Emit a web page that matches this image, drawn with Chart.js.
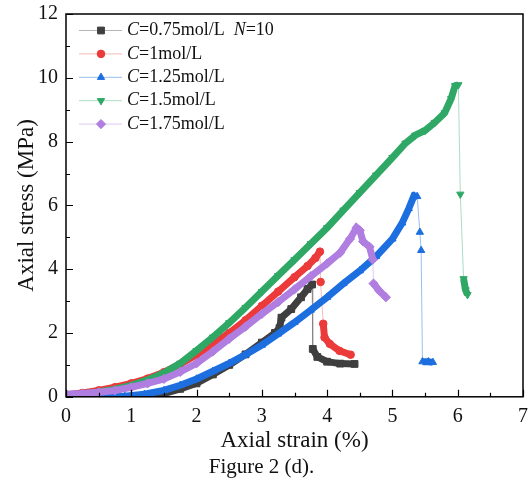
<!DOCTYPE html>
<html>
<head>
<meta charset="utf-8">
<script src="https://cdn.jsdelivr.net/npm/chart.js@4.4.1/dist/chart.umd.min.js"></script>
<style>
html,body{margin:0;padding:0;background:#fff;}
</style>
</head>
<body>
<canvas id="chart" width="532" height="481"></canvas>
<script>
const labels = ['C=0.75mol/L  N=10', 'C=1mol/L', 'C=1.25mol/L', 'C=1.5mol/L', 'C=1.75mol/L'];

const strainC075 = [0, 0.5, 1.0, 1.3, 1.5, 1.75, 2.0, 2.25, 2.5, 2.75, 3.0, 3.2, 3.27, 3.3, 3.45, 3.6, 3.7, 3.77, 3.78, 3.85, 4.0, 4.2, 4.42];
const stressC075 = [0, 0, 0, 0.02, 0.1, 0.25, 0.42, 0.7, 1.0, 1.33, 1.7, 2.0, 2.15, 2.48, 2.75, 3.12, 3.38, 3.52, 1.5, 1.25, 1.1, 1.04, 1.03];

const strainC1 = [0, 0.25, 0.5, 0.75, 1.0, 1.25, 1.5, 1.75, 2.0, 2.25, 2.5, 2.75, 3.0, 3.25, 3.5, 3.7, 3.82, 3.89, 3.9, 3.94, 3.96, 4.04, 4.19, 4.36];
const stressC1 = [0.06, 0.12, 0.2, 0.3, 0.42, 0.57, 0.77, 1.02, 1.32, 1.65, 2.0, 2.4, 2.85, 3.3, 3.75, 4.1, 4.35, 4.55, 3.6, 2.29, 1.86, 1.66, 1.44, 1.32];

const strainC125 = [0, 0.5, 0.9, 1.2, 1.5, 1.75, 2.0, 2.25, 2.5, 2.75, 3.0, 3.25, 3.5, 3.75, 4.0, 4.25, 4.5, 4.75, 5.0, 5.15, 5.25, 5.33, 5.38, 5.42, 5.44, 5.46, 5.55, 5.62];
const stressC125 = [0, 0, 0.02, 0.08, 0.2, 0.36, 0.56, 0.8, 1.05, 1.32, 1.62, 1.97, 2.33, 2.72, 3.12, 3.55, 3.95, 4.4, 4.95, 5.45, 5.9, 6.3, 6.28, 5.16, 4.59, 1.1, 1.1, 1.08];

const strainC15 = [0, 0.25, 0.5, 0.75, 1.0, 1.25, 1.5, 1.75, 2.0, 2.25, 2.5, 2.75, 3.0, 3.25, 3.5, 3.75, 4.0, 4.25, 4.5, 4.75, 5.0, 5.2, 5.35, 5.5, 5.65, 5.8, 5.9, 5.96, 6.01, 6.04, 6.09, 6.12, 6.15];
const stressC15 = [0.05, 0.09, 0.15, 0.24, 0.36, 0.53, 0.75, 1.05, 1.45, 1.87, 2.32, 2.8, 3.3, 3.8, 4.3, 4.8, 5.3, 5.85, 6.4, 6.95, 7.5, 7.95, 8.2, 8.35, 8.6, 8.9, 9.35, 9.75, 9.78, 6.35, 3.7, 3.35, 3.2];

const strainC175 = [0, 0.25, 0.5, 0.75, 1.0, 1.25, 1.5, 1.75, 2.0, 2.25, 2.5, 2.75, 3.0, 3.25, 3.5, 3.75, 4.0, 4.2, 4.35, 4.45, 4.5, 4.55, 4.65, 4.7, 4.71, 4.8, 4.9];
const stressC175 = [0.08, 0.1, 0.14, 0.2, 0.3, 0.42, 0.56, 0.78, 1.05, 1.42, 1.82, 2.2, 2.6, 2.97, 3.37, 3.78, 4.18, 4.52, 4.95, 5.3, 5.22, 4.87, 4.7, 4.3, 3.55, 3.32, 3.12];

const xTicks = [0, 1, 2, 3, 4, 5, 6, 7];
const yTicks = [0, 2, 4, 6, 8, 10, 12];

////////////

const police = '"Liberation Serif", "Times New Roman", serif';
const couleurs = ['#3f3f3f', '#ec3a3a', '#1d6fe0', '#2fa866', '#b07ee0'];
const clairs = ['rgba(90,90,90,0.45)', 'rgba(236,58,58,0.35)', 'rgba(29,111,224,0.45)', 'rgba(47,168,102,0.4)', 'rgba(176,126,224,0.4)'];
const formes = ['rect', 'circle', 'triangle', 'triangle', 'rectRot'];
const rotations = [0, 0, 0, 180, 0];
const rayons = [4.8, 3.8, 4.2, 4.2, 4.6];

const series = [[strainC075, stressC075], [strainC1, stressC1], [strainC125, stressC125], [strainC15, stressC15], [strainC175, stressC175]];

Chart.defaults.font.family = police;
Chart.defaults.color = '#111';

function chute(c){ return (c.p0.parsed.y - c.p1.parsed.y) > 0.5; }

const datasets = series.map(function(s, i){
    return {
        label: labels[i],
        data: s[0].map(function(v, k){ return {x: v, y: s[1][k]}; }),
        borderColor: couleurs[i],
        borderWidth: 7,
        pointStyle: formes[i],
        pointRotation: rotations[i],
        pointRadius: rayons[i],
        pointBackgroundColor: couleurs[i],
        pointBorderColor: couleurs[i],
        pointBorderWidth: 1,
        tension: 0,
        order: 4 - i,
        segment: {
            borderWidth: function(c){ return chute(c) ? 1 : 7; },
            borderColor: function(c){ return chute(c) ? clairs[i] : couleurs[i]; }
        }
    };
});

// cadre + graduations vers l'interieur
const cadre = {
    id: 'cadre',
    afterDatasetsDraw(chart){
        const ctx = chart.ctx, a = chart.chartArea, x = chart.scales.x, y = chart.scales.y;
        ctx.save();
        ctx.strokeStyle = '#000';
        ctx.lineWidth = 1.2;
        ctx.beginPath();
        for(let v = 0; v <= 7; v += 0.5){
            const px = Math.round(x.getPixelForValue(v)) + 0.5;
            const l = (v % 1 === 0) ? 7 : 4;
            ctx.moveTo(px, a.bottom); ctx.lineTo(px, a.bottom - l);
        }
        for(let v = 0; v <= 12; v += 1){
            const py = Math.round(y.getPixelForValue(v)) + 0.5;
            const l = (v % 2 === 0) ? 7 : 4;
            ctx.moveTo(a.left, py); ctx.lineTo(a.left + l, py);
        }
        ctx.stroke();
        ctx.lineWidth = 1.5;
        ctx.strokeRect(a.left, a.top, a.right - a.left, a.bottom - a.top);
        ctx.restore();
    }
};

// legende avec C et N en italique
const legende = {
    id: 'legende',
    afterDraw(chart){
        const ctx = chart.ctx;
        ctx.save();
        labels.forEach(function(txt, i){
            const yy = 30.5 + i * 23.4;
            ctx.strokeStyle = clairs[i];
            ctx.lineWidth = 1;
            ctx.beginPath(); ctx.moveTo(79, yy); ctx.lineTo(122, yy); ctx.stroke();
            ctx.fillStyle = couleurs[i];
            ctx.strokeStyle = couleurs[i];
            Chart.helpers.drawPoint(ctx, {pointStyle: formes[i], radius: rayons[i], rotation: rotations[i], borderWidth: 1}, 101, yy);
            let xx = 127;
            ctx.fillStyle = '#111';
            ctx.textBaseline = 'middle';
            txt.split(/([CN])(?==)/).forEach(function(morceau){
                if(morceau === '') return;
                const ital = (morceau === 'C' || morceau === 'N');
                ctx.font = (ital ? 'italic ' : '') + '18px ' + police;
                ctx.fillText(morceau, xx, yy);
                xx += ctx.measureText(morceau).width;
            });
        });
        ctx.restore();
    }
};

var myChart = new Chart(document.getElementById('chart').getContext('2d'), {
    type: 'line',
    data: { datasets: datasets },
    plugins: [cadre, legende],
    options: {
        responsive: false,
        animation: false,
        layout: { padding: { left: 0, right: 9, top: 14, bottom: 1 } },
        plugins: {
            legend: { display: false },
            tooltip: { enabled: false },
            title: {
                display: true,
                position: 'bottom',
                text: 'Figure 2 (d).',
                color: '#111',
                font: { family: police, size: 21, weight: 'normal' },
                padding: 0
            }
        },
        scales: {
            x: {
                type: 'linear',
                min: 0, max: 7,
                afterFit: function(s){ s.height = 58; s.paddingLeft = 0; s.paddingRight = 0; },
                afterBuildTicks: function(s){ s.ticks = xTicks.map(function(v){ return {value: v}; }); },
                grid: { display: false, drawTicks: false },
                border: { display: false },
                ticks: { padding: 8, font: { size: 20 }, color: '#111', maxRotation: 0 },
                title: { display: true, text: 'Axial strain (%)', font: { size: 23 }, color: '#111', padding: 0 }
            },
            y: {
                type: 'linear',
                min: 0, max: 12,
                afterFit: function(s){ s.width = 66; s.paddingTop = 0; s.paddingBottom = 0; },
                afterBuildTicks: function(s){ s.ticks = yTicks.map(function(v){ return {value: v}; }); },
                grid: { display: false, drawTicks: false },
                border: { display: false },
                ticks: { padding: 8, font: { size: 20 }, color: '#111' },
                title: { display: true, text: 'Axial stress (MPa)', font: { size: 23 }, color: '#111', padding: { top: 13, bottom: 0 } }
            }
        }
    }
});
</script>
</body>
</html>
